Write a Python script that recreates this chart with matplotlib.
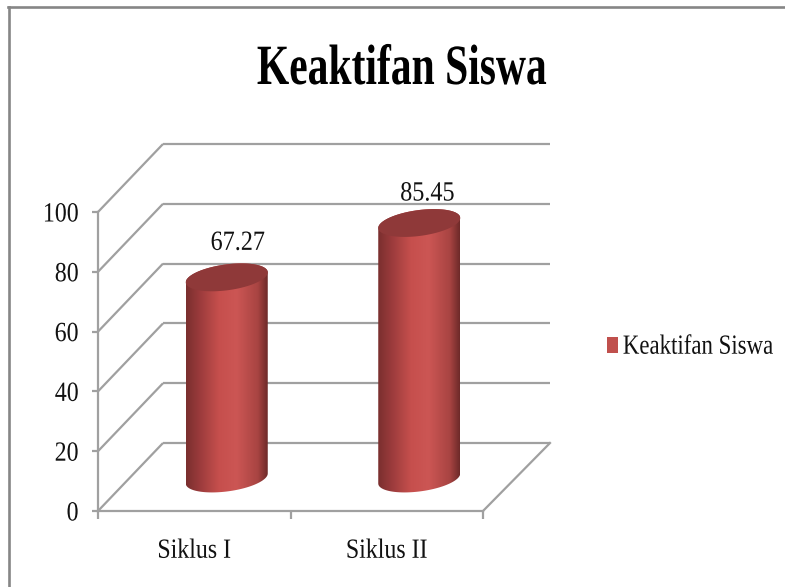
import numpy as np
import matplotlib
matplotlib.use("Agg")
import matplotlib.pyplot as plt
from matplotlib.colors import LinearSegmentedColormap
from matplotlib.patches import Patch, Polygon
from matplotlib.lines import Line2D
from matplotlib.patheffects import AbstractPathEffect
from matplotlib.transforms import Affine2D

title = "Keaktifan Siswa"
categories = ["Siklus I", "Siklus II"]
values = [67.27, 85.45]
y_ticks = [0, 20, 40, 60, 80, 100]

W, H = 785, 587
plt.rcParams["font.family"] = ["Liberation Serif", "DejaVu Serif"]
fig = plt.figure(figsize=(W / 100, H / 100), dpi=100, facecolor="white")


class Condense(AbstractPathEffect):
    """Reshape real text, as in the stretched reference."""

    def __init__(self, sx, anchor="center", sy=1.0):
        super().__init__()
        self.sx, self.anchor, self.sy = sx, anchor, sy

    def draw_path(self, renderer, gc, tpath, affine, rgbFace=None):
        ext = tpath.get_extents()
        ax_ = {"center": (ext.x0 + ext.x1) / 2, "left": ext.x0, "right": ext.x1}[self.anchor]
        tr = Affine2D().translate(-ax_, 0).scale(self.sx, self.sy).translate(ax_, 0) + affine
        renderer.draw_path(gc, tpath, tr, rgbFace)


# front plane of the 3-D box, in pixels
L, R, T, B = 98, 483, 212, 511
ax = fig.add_axes([L / W, 1 - B / H, (R - L) / W, (B - T) / H])
ax.patch.set_visible(False)
XMAX, YMAX = 2, 100
px_x = XMAX / (R - L)
px_y = YMAX / (B - T)
DX, DY = 65 * px_x, 68 * px_y       # depth of the box
DXR = 67 * px_x
GRID = "#a0a0a0"
LW = 1.6
TXT = "#111111"

for v in y_ticks:
    ax.plot([0, DX], [v, v + DY], color=GRID, lw=LW, clip_on=False, zorder=1, solid_capstyle="butt")
    ax.plot([DX, XMAX + DXR], [v + DY, v + DY], color=GRID, lw=LW, clip_on=False, zorder=1, solid_capstyle="butt")
ax.plot([XMAX, XMAX + DXR], [0, DY], color=GRID, lw=LW, clip_on=False, zorder=1)

grad = LinearSegmentedColormap.from_list(
    "cyl", [(0, "#7a2f2e"), (0.14, "#96393a"), (0.4, "#c64f4d"), (0.62, "#cc5654"),
            (0.88, "#a84442"), (1, "#6e2a29")])

half_w = 41
cap_b, cap_s = 13, 5
t = np.linspace(0, 2 * np.pi, 121)


def ell(xc, yc, th):
    return (xc + half_w * px_x * np.cos(th),
            yc + (cap_b * np.sin(th) + cap_s * np.cos(th)) * px_y)


for i, val in enumerate(values):
    xc = i + 0.5 + DX / 2
    y0 = DY / 2 - 0.5
    y1 = y0 + val
    xt, yt = ell(xc, y1, np.linspace(0, np.pi, 60))
    xb, yb = ell(xc, y0, np.linspace(np.pi, 2 * np.pi, 60))
    body = Polygon(np.column_stack([np.r_[xt, xb], np.r_[yt, yb]]), closed=True,
                   fc="none", ec="none", transform=ax.transData)
    ax.add_patch(body)
    body.set_clip_on(False)
    im = ax.imshow(np.linspace(0, 1, 128)[None, :], cmap=grad, aspect="auto",
                   extent=[xc - half_w * px_x, xc + half_w * px_x, y0 - 10, y1 + 10],
                   zorder=3, interpolation="bilinear")
    im.set_clip_box(fig.bbox)
    im.set_clip_path(body)
    xe, ye = ell(xc, y1, t)
    ax.fill(xe, ye, color="#8f3939", zorder=4, clip_on=False, lw=0)

label_offsets = [(11, 34), (8, 29)]
for i, val in enumerate(values):
    xc = i + 0.5 + DX / 2
    a = ax.annotate(f"{val:.2f}", xy=(xc, DY / 2 - 0.5 + val),
                    xytext=(label_offsets[i][0] * 0.72, label_offsets[i][1] * 0.72),
                    textcoords="offset points", ha="center", va="center",
                    fontsize=20, color=TXT, zorder=6, annotation_clip=False)
    a.set_path_effects([Condense(0.87)])

ax.set_xlim(0, XMAX)
ax.set_ylim(0, YMAX)
for s in ("top", "right"):
    ax.spines[s].set_visible(False)
for s in ("left", "bottom"):
    ax.spines[s].set_color(GRID)
    ax.spines[s].set_linewidth(LW)
ax.set_yticks(y_ticks)
ax.set_xticks([0, 1, 2])
ax.set_xticklabels([])
ax.set_xticks([0.5, 1.5], minor=True)
ax.set_xticklabels(categories, minor=True, fontsize=20, color=TXT)
ax.tick_params(axis="x", which="major", length=6, width=LW, color=GRID)
ax.tick_params(axis="x", which="minor", length=0, pad=20)
ax.tick_params(axis="y", length=4, width=LW, color=GRID, labelsize=20, labelcolor=TXT, pad=10)
for lab in ax.get_xticklabels(minor=True):
    lab.set_path_effects([Condense(0.86)])
for lab in ax.get_yticklabels():
    lab.set_path_effects([Condense(0.86, "right")])

ttl = fig.text(402 / W, 1 - 70 / H, title, ha="center", va="center", fontsize=41,
               fontweight="bold", color="black")
ttl.set_path_effects([Condense(0.73)])

leg = fig.legend(handles=[Patch(fc="#c0504d", ec="none", label=title)], loc="center left",
                 bbox_to_anchor=(607 / W, 1 - 348 / H), frameon=False, fontsize=17.5,
                 labelcolor=TXT, handlelength=0.45, handleheight=0.62, handletextpad=0.2,
                 borderpad=0, borderaxespad=0)
leg.get_texts()[0].set_path_effects([Condense(0.94, "left", 1.14)])

FRAME = "#868686"
fig.add_artist(Line2D([9.3 / W, 9.3 / W], [0, 1 - 6.5 / H], color=FRAME, lw=1.9, transform=fig.transFigure))
fig.add_artist(Line2D([8.3 / W, 1], [1 - 6.5 / H, 1 - 6.5 / H], color=FRAME, lw=1.9, transform=fig.transFigure))

fig.savefig("out.png", dpi=100)
